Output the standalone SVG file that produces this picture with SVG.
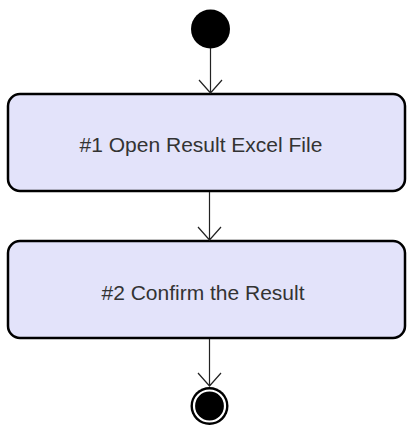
<svg xmlns="http://www.w3.org/2000/svg" width="407" height="429" viewBox="0 0 407 429">
<style>
.box{fill:#E3E3FA;stroke:#000;stroke-width:2.5}
.lbl{font-family:"Liberation Sans",Arial,sans-serif;font-size:21px;fill:#333;text-anchor:middle}
.edge{stroke:#222;stroke-width:1.2;fill:none}
</style>
<rect width="407" height="429" fill="#fff"/>
<g id="start"><circle cx="210.5" cy="29" r="19.5" fill="#000"/></g>
<g id="n1"><rect class="box" x="8" y="94" width="397" height="97" rx="12"/><text class="lbl" x="201" y="152">#1 Open Result Excel File</text></g>
<g id="n2"><rect class="box" x="8" y="241" width="397" height="97" rx="12"/><text class="lbl" x="203" y="300">#2 Confirm the Result</text></g>
<g id="end"><circle cx="209.5" cy="406" r="19" fill="#000"/><circle cx="209.5" cy="406" r="15.5" fill="none" stroke="#fff" stroke-width="2.2"/></g>
<g id="edges">
<path class="edge" d="M210.5 48V93M199 80L210.5 93L222 80"/>
<path class="edge" d="M209.5 192V240M198 227L209.5 240L221 227"/>
<path class="edge" d="M209.5 339V386M198 373L209.5 386L221 373"/>
</g>
</svg>
